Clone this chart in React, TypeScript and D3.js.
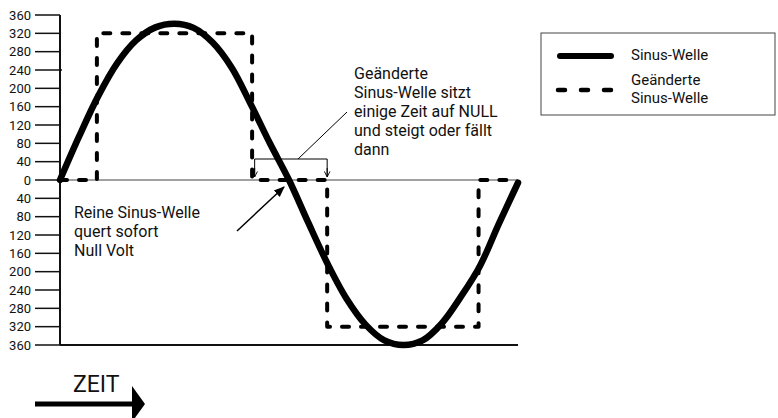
import React from "react";
import * as d3 from "d3";

// Sine wave readings (phase in degrees, volts)
const sineDeg = [0, 15, 30, 45, 60, 75, 90, 105, 120, 135, 150, 165, 180, 195, 210, 225, 240, 255, 270, 285, 300, 315, 330, 345, 360];
const sineVal = [0, 95, 183, 255, 305, 333, 341, 332, 300, 245, 165, 80, 0, -92, -181, -258, -315, -350, -360, -350, -313, -255, -188, -95, -6];

// Modified sine wave corners
const modDeg = [0, 29, 29, 151, 151, 210, 210, 329, 329, 360];
const modVal = [0, 0, 320, 320, 0, 0, -320, -320, 0, 0];

const tickValues = [-360, -320, -280, -240, -200, -160, -120, -80, -40, 0, 40, 80, 120, 160, 200, 240, 280, 320, 360];

const legendLabels = ["Sinus-Welle", "Geänderte", "Sinus-Welle"];
const noteTop = ["Geänderte", "Sinus-Welle sitzt", "einige Zeit auf NULL", "und steigt oder fällt", "dann"];
const noteBottom = ["Reine Sinus-Welle", "quert sofort", "Null Volt"];
const timeLabel = "ZEIT";

const FONT = "Roboto, 'Open Sans', sans-serif";

export default function App() {
  const x = d3.scaleLinear().domain([0, 360]).range([60, 518]);
  const y = d3.scaleLinear().domain([-360, 360]).range([345, 15]);

  const sineLine = d3
    .line<number>()
    .x((_, i) => x(sineDeg[i]))
    .y((v) => y(v))
    .curve(d3.curveCatmullRom);
  const modLine = d3
    .line<number>()
    .x((_, i) => x(modDeg[i]))
    .y((v) => y(v));

  const bx1 = x(153);
  const bx2 = x(210);

  return (
    <div style={{ position: "absolute", left: 0, top: 0 }}>
      <svg width={778} height={418} style={{ display: "block", background: "#fff" }}>
        <defs>
          <marker id="openArrow" viewBox="0 0 10 10" refX="9" refY="5" markerWidth="7" markerHeight="7" orient="auto" markerUnits="userSpaceOnUse">
            <path d="M1,1 L9,5 L1,9" fill="none" stroke="#000" strokeWidth={1.3} />
          </marker>
          <marker id="solidArrow" viewBox="0 0 10 10" refX="9" refY="5" markerWidth="11" markerHeight="11" orient="auto" markerUnits="userSpaceOnUse">
            <path d="M0,1 L10,5 L0,9 Z" fill="#000" />
          </marker>
        </defs>

        {/* zero line */}
        <line x1={x(0)} x2={x(360)} y1={y(0)} y2={y(0)} stroke="#444" strokeWidth={1.2} />
        {/* bottom line */}
        <line x1={x(0)} x2={x(360)} y1={y(-360)} y2={y(-360)} stroke="#111" strokeWidth={2} />
        {/* y axis */}
        <line x1={x(0)} x2={x(0)} y1={y(360)} y2={y(-360)} stroke="#111" strokeWidth={2} />
        {tickValues.map((t) => (
          <g key={t}>
            <line x1={35} x2={t === 240 ? 62 : 60} y1={y(t)} y2={y(t)} stroke="#111" strokeWidth={1.5} />
            <text x={31} y={y(t)} dy="0.36em" textAnchor="end" fontFamily={FONT} fontSize={13} fill="#111">
              {Math.abs(t)}
            </text>
          </g>
        ))}

        {/* modified sine */}
        <path d={modLine(modVal) || ""} fill="none" stroke="#000" strokeWidth={4} strokeDasharray="7,12" strokeLinecap="round" strokeLinejoin="round" />
        {/* pure sine */}
        <path d={sineLine(sineVal) || ""} fill="none" stroke="#000" strokeWidth={6.5} strokeLinecap="round" />

        {/* bracket annotation */}
        <path d={`M${bx1},176 L${bx1},159 L${bx2},159 L${bx2},176`} fill="none" stroke="#000" strokeWidth={1} />
        <line x1={bx1} x2={bx1} y1={168} y2={177} stroke="#000" strokeWidth={1} markerEnd="url(#openArrow)" />
        <line x1={bx2} x2={bx2} y1={168} y2={177} stroke="#000" strokeWidth={1} markerEnd="url(#openArrow)" />
        <line x1={298} y1={159} x2={347} y2={112} stroke="#000" strokeWidth={1} />
        {noteTop.map((s, i) => (
          <text key={i} x={354} y={79 + i * 19} fontFamily={FONT} fontSize={16} fill="#111">
            {s}
          </text>
        ))}

        {/* pure sine annotation */}
        <line x1={237} y1={231} x2={284} y2={187} stroke="#000" strokeWidth={1.5} markerEnd="url(#solidArrow)" />
        {noteBottom.map((s, i) => (
          <text key={i} x={74} y={218 + i * 19} fontFamily={FONT} fontSize={16} fill="#111">
            {s}
          </text>
        ))}

        {/* legend */}
        <rect x={541} y={33} width={234} height={82} fill="#fff" stroke="#444" strokeWidth={1} />
        <line x1={560} x2={611} y1={56} y2={56} stroke="#000" strokeWidth={6} strokeLinecap="round" />
        <line x1={558} x2={614} y1={90} y2={90} stroke="#000" strokeWidth={4.5} strokeDasharray="7,16" strokeLinecap="round" />
        <text x={631} y={60} fontFamily={FONT} fontSize={15} fill="#111">{legendLabels[0]}</text>
        <text x={631} y={85} fontFamily={FONT} fontSize={15} fill="#111">{legendLabels[1]}</text>
        <text x={631} y={103} fontFamily={FONT} fontSize={15} fill="#111">{legendLabels[2]}</text>

        {/* time arrow */}
        <text x={73} y={392} fontFamily={FONT} fontSize={23} fill="#111">{timeLabel}</text>
        <line x1={35} x2={134} y1={404} y2={404} stroke="#000" strokeWidth={5} />
        <path d="M132,386 L145,404 L132,422 Z" fill="#000" />
      </svg>
    </div>
  );
}
